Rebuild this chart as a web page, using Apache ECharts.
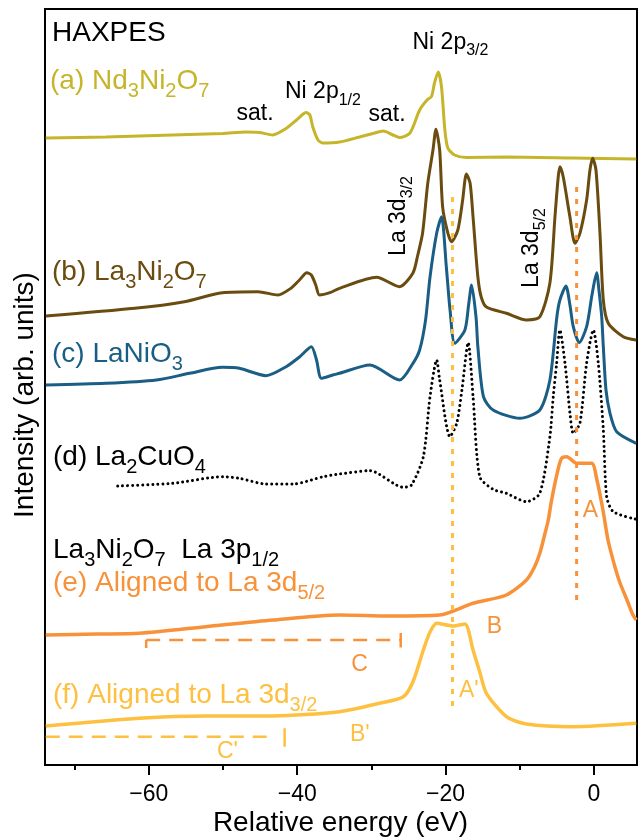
<!DOCTYPE html>
<html><head><meta charset="utf-8">
<script src="https://cdn.jsdelivr.net/npm/echarts@6/dist/echarts.min.js"></script>
<style>html,body{margin:0;padding:0;background:#fff}#c{width:641px;height:840px}</style>
</head><body><div id="c"></div>
<script>
const FONT = '"Liberation Sans", Arial, Helvetica, sans-serif';

// [relative energy (eV), intensity (arb. units)]
const nd3ni2o7 = [[-73.9,627],[-65.8,628],[-56.8,630],[-50.0,631.5],[-46.9,633],[-45.1,632.5],[-43.3,630],[-41.5,636.5],[-40.1,645],[-39.2,651],[-38.8,652.5],[-38.3,650],[-37.9,638],[-37.2,625],[-36.5,622],[-34.3,623],[-31.6,628],[-29.8,631.5],[-28.4,634],[-27.1,630],[-26.2,627.5],[-24.8,632],[-23.5,655],[-22.5,665],[-21.9,668.5],[-21.5,682],[-21.0,693],[-20.55,678],[-20.1,635],[-19.7,617],[-18.8,610],[-17.2,607.5],[-11.8,608],[-2.8,607],[5.7,606]];
const la3ni2o7 = [[-73.9,449],[-61.9,456.7],[-55.2,463.3],[-50.1,472.3],[-45.3,473.3],[-42.6,470],[-40.8,477],[-39.7,485],[-38.7,492.3],[-38.1,490],[-37.5,480],[-37.0,470],[-35.6,472.3],[-34.3,476.7],[-29.3,487.7],[-26.2,478.3],[-24.4,492],[-23.75,510],[-23.1,532],[-22.4,582],[-21.7,615],[-21.3,635.7],[-20.8,615],[-20.4,558],[-19.7,532],[-19.2,523.3],[-18.35,535],[-17.7,565],[-17.2,591],[-16.7,582],[-16.3,548],[-15.65,488],[-15.2,468],[-14.5,458],[-11.8,451.7],[-9.1,445],[-7.3,448.3],[-5.94,482],[-5.26,548],[-4.82,588],[-4.59,598.3],[-4.14,588],[-3.24,548],[-2.56,521.7],[-1.89,531.7],[-0.99,565],[-0.54,595],[-0.18,606.7],[0.27,595],[0.81,531.7],[1.26,465],[1.93,441.7],[3.95,428.3],[5.7,425]];
const lanio3 = [[-73.9,380],[-65.8,381.7],[-59.0,385],[-54.5,391.7],[-50.1,397.7],[-47.8,396.7],[-44.2,389.3],[-41.5,398.3],[-39.7,408],[-38.1,418.3],[-37.4,405],[-36.75,386.7],[-35.2,390],[-34.3,391.7],[-30.2,400],[-26.2,385],[-24.4,401.7],[-23.5,415],[-22.7,445],[-22.1,488],[-21.2,532],[-20.55,548.3],[-19.9,498],[-19.4,455],[-18.76,421.7],[-17.4,435],[-16.9,460],[-16.5,480],[-15.9,448],[-15.65,418],[-14.9,368.3],[-13.6,355],[-10.0,346.7],[-7.3,355],[-5.94,385],[-5.0,448.3],[-4.59,465],[-3.78,479],[-3.24,460],[-2.79,438.3],[-1.98,422.3],[-0.99,438.3],[-0.27,470],[0.36,492.3],[0.67,475],[1.04,448.3],[1.26,418.3],[1.62,375],[2.16,351.7],[3.06,333.3],[5.7,321.7]];
const la2cuo4 = [[-64.2,279],[-56.8,281.7],[-50.0,288.3],[-47.8,286.7],[-44.2,281],[-40.6,281],[-36.5,288.3],[-34.3,291],[-30.2,294.3],[-25.7,277.7],[-24.6,280],[-23.0,308.3],[-22.1,368.3],[-21.2,405],[-20.8,385],[-19.4,328.3],[-18.5,341.7],[-17.8,375],[-16.96,422.3],[-16.3,368.3],[-15.4,288.3],[-13.6,275.7],[-11.8,271.7],[-9.1,263.3],[-7.3,271.7],[-5.94,328.3],[-5.49,368.3],[-5.03,401.7],[-4.59,435],[-3.91,402],[-3.24,352],[-2.79,331.7],[-1.89,342],[-0.99,402],[-0.09,435],[0.58,402],[1.26,335],[1.71,268.3],[2.6,253.3],[5.7,245.7]];
const la3p_d52 = [[-73.9,130],[-67.0,131],[-61.3,131.7],[-52.3,138.3],[-43.3,145],[-34.3,150],[-27.5,149],[-20.8,150],[-16.3,161.7],[-11.8,170],[-9.1,185],[-8.0,198.3],[-7.3,211.7],[-6.6,231.7],[-6.16,245],[-5.71,265],[-4.86,295],[-4.36,306.7],[-3.68,308.3],[-2.33,301.7],[-0.31,301.7],[0.4,285],[1.21,255],[1.89,225],[2.83,198],[3.51,182],[4.45,165],[5.26,150],[5.7,145]];
const la3p_d32 = [[-73.9,39],[-61.3,46.7],[-52.3,49],[-43.3,49],[-34.3,53.3],[-28.9,61.7],[-25.7,68.3],[-24.4,83.3],[-23.0,115],[-22.1,133],[-21.2,141.7],[-19.0,139],[-17.4,141],[-16.3,115],[-15.4,93],[-14.5,71.7],[-11.8,48.3],[-9.1,41],[-2.8,38.3],[5.7,41.7]];

// guide lines (eV, intensity)
const guideYellowV = [[-19.07,568],[-19.07,55]];
const guideOrangeV = [[-2.34,578],[-2.34,165]];
const rangeC = [[-60.36,125],[-26.05,125]];
const rangeCTickL = [[-60.36,125],[-60.36,117]];
const rangeCTickR = [[-26.05,132],[-26.05,117.5]];
const rangeCp = [[-73.9,28.3],[-43.2,28.3]];
const rangeCpTick = [[-41.7,36.7],[-41.7,18.3]];

const xMajorTicks = [-60,-40,-20,0];
const xMinorTicks = [-70,-50,-30,-10];

const colA = '#c6b52b', colB = '#6b4c10', colC = '#1a5e85', colD = '#000000', colE = '#f7923a', colF = '#fdc040';

function rich(str, size, color) {
  const sub = Math.round(size * 0.7);
  const pad = Math.round(size * 0.5);
  let out = '';
  const re = /_\{([^}]*)\}/g;
  let last = 0, m;
  while ((m = re.exec(str)) !== null) {
    if (m.index > last) out += '{n|' + str.slice(last, m.index) + '}';
    out += '{s|' + m[1] + '}';
    last = re.lastIndex;
  }
  if (last < str.length) out += '{n|' + str.slice(last) + '}';
  return {
    text: out,
    rich: {
      n: {fontSize: size, lineHeight: size, verticalAlign: 'top', fill: color, fontFamily: FONT},
      s: {fontSize: sub, lineHeight: sub, padding: [pad, 0, 0, 0], verticalAlign: 'top', fill: color, fontFamily: FONT}
    }
  };
}
function label(str, x, y, size, color, align, rotation) {
  const hasSub = str.indexOf('_{') >= 0;
  const st = hasSub ? rich(str, size, color) : {text: str};
  return {
    type: 'text', x: x, y: y, rotation: rotation || 0, silent: true, z: 100,
    style: Object.assign({fill: color, fontSize: size, fontFamily: FONT, align: align || 'left', verticalAlign: 'middle'}, st)
  };
}

function curve(name, data, color, width, extra) {
  return {
    name, type: 'line', data, showSymbol: false, symbol: 'none', smooth: 0.25, silent: true,
    lineStyle: Object.assign({color, width}, extra || {})
  };
}
function guide(data, color, width, type) {
  return {type: 'line', data, showSymbol: false, symbol: 'none', silent: true, z: 5,
    lineStyle: {color, width, type}};
}

const chart = echarts.init(document.getElementById('c'), null, {renderer: 'canvas'});
chart.setOption({
  animation: false,
  backgroundColor: '#ffffff',
  grid: {left: 45, right: 4, top: 9, bottom: 75, show: true, borderColor: '#000', borderWidth: 2, outerBoundsMode: 'none'},
  xAxis: [
    {type: 'value', min: -74, max: 5.8, position: 'bottom',
     axisLine: {show: false}, splitLine: {show: false},
     axisTick: {show: true, customValues: xMajorTicks, length: 10, lineStyle: {color: '#000', width: 2}},
     axisLabel: {show: true, customValues: xMajorTicks, margin: 18, fontSize: 23, color: '#000', fontFamily: FONT,
       formatter: v => String(v).replace('-', '\u2212')}},
    {type: 'value', min: -74, max: 5.8, position: 'bottom',
     axisLine: {show: false}, splitLine: {show: false},
     axisTick: {show: true, customValues: xMinorTicks, length: 5, lineStyle: {color: '#000', width: 2}},
     axisLabel: {show: false}}
  ],
  yAxis: {type: 'value', min: 0, max: 756, axisLine: {show: false}, axisTick: {show: false}, axisLabel: {show: false}, splitLine: {show: false}},
  series: [
    curve('Nd3Ni2O7', nd3ni2o7, colA, 3),
    curve('La3Ni2O7', la3ni2o7, colB, 3),
    curve('LaNiO3', lanio3, colC, 3),
    curve('La2CuO4', la2cuo4, colD, 3, {type: [0.01, 5], cap: 'round'}),
    curve('La 3p1/2 aligned to La 3d5/2', la3p_d52, colE, 3.5),
    curve('La 3p1/2 aligned to La 3d3/2', la3p_d32, colF, 3.5),
    guide(guideYellowV, colF, 3, [5, 7]),
    guide(guideOrangeV, colE, 3, [5, 7]),
    guide(rangeC, colE, 2.5, [14, 9]),
    guide(rangeCTickL, colE, 2.5, 'solid'),
    guide(rangeCTickR, colE, 2.5, 'solid'),
    guide(rangeCp, colF, 2.5, [14, 9]),
    guide(rangeCpTick, colF, 2.5, 'solid')
  ],
  graphic: [
    label('HAXPES', 52, 33, 28, '#000'),
    label('(a) Nd_{3}Ni_{2}O_{7}', 50, 81, 28, colA),
    label('(b) La_{3}Ni_{2}O_{7}', 52, 272, 28, colB),
    label('(c) LaNiO_{3}', 52, 354, 28, colC),
    label('(d) La_{2}CuO_{4}', 53, 457, 28, '#000'),
    label('La_{3}Ni_{2}O_{7}  La 3p_{1/2}', 53, 550, 28, '#000'),
    label('(e) Aligned to La 3d_{5/2}', 53, 583, 28, colE),
    label('(f) Aligned to La 3d_{3/2}', 53, 695, 28, colF),
    label('sat.', 255, 114, 23, '#000', 'center'),
    label('Ni 2p_{1/2}', 285, 92, 23, '#000'),
    label('sat.', 387, 115, 23, '#000', 'center'),
    label('Ni 2p_{3/2}', 412.5, 42.5, 23, '#000'),
    label('La 3d_{3/2}', 399, 216, 23, '#000', 'center', Math.PI / 2),
    label('La 3d_{5/2}', 532, 248, 23, '#000', 'center', Math.PI / 2),
    label('A', 590.5, 510.5, 23, colE, 'center'),
    label('B', 494.5, 626.5, 23, colE, 'center'),
    label('C', 359.5, 665, 23, colE, 'center'),
    label("A'", 459, 690.5, 23, colF),
    label("B'", 350, 735, 23, colF),
    label("C'", 217, 752, 23, colF),
    label('Relative energy (eV)', 340.5, 823, 28, '#000', 'center'),
    label('Intensity (arb. units)', 25, 395, 28, '#000', 'center', Math.PI / 2)
  ]
});
</script>
</body></html>
